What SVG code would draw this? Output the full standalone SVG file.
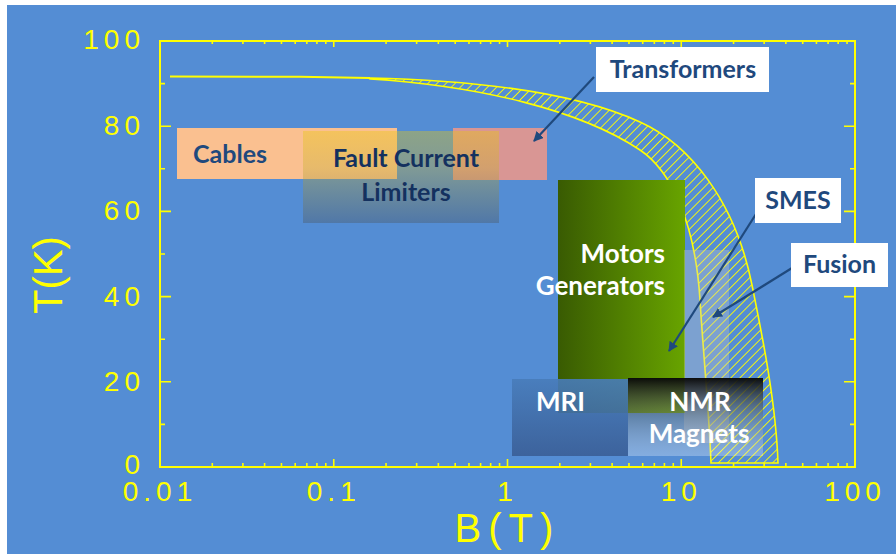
<svg xmlns="http://www.w3.org/2000/svg" width="896" height="554" viewBox="0 0 896 554">
  <defs>
    <style>
      .ax{fill:none;stroke:#FFFF00;stroke-width:2}
      .tk{fill:none;stroke:#FFFF00;stroke-width:1.6}
      .num{font-family:'Liberation Sans',Arial,sans-serif;font-size:28px;fill:#FFFF00;letter-spacing:5px}
      .title{font-family:'Liberation Sans',Arial,sans-serif;font-size:40px;fill:#FFFF00}
      .lbl{font-family:Lato,'Open Sans',sans-serif;font-weight:bold;font-size:25px}
      .dk{fill:#1F497D}
      .nv{fill:#14315F}
      .wt{fill:#FFFFFF}
      .tag{fill:#FFFFFF}
      .arr{stroke:#1F497D;stroke-width:2.2;fill:none;marker-end:url(#ah)}
    </style>
    <marker id="ah" viewBox="0 0 10 10" refX="9" refY="5" markerWidth="4.5" markerHeight="4.5" orient="auto" markerUnits="strokeWidth">
      <path d="M0,0 L10,5 L0,10 z" fill="#1F497D"/>
    </marker>
    <pattern id="hatch" width="6.4" height="6.4" patternUnits="userSpaceOnUse" patternTransform="rotate(45)">
      <line x1="3.2" y1="0" x2="3.2" y2="6.4" stroke="#FFFF00" stroke-width="0.9"/>
    </pattern>
    <linearGradient id="gFCL" x1="0" y1="0" x2="0" y2="1">
      <stop offset="0" stop-color="#EAC80A" stop-opacity="0.38"/>
      <stop offset="0.4" stop-color="#C8B030" stop-opacity="0.38"/>
      <stop offset="1" stop-color="#4A5560" stop-opacity="0.38"/>
    </linearGradient>
    <linearGradient id="gMG" x1="0" y1="0" x2="1" y2="0">
      <stop offset="0" stop-color="#395B02"/>
      <stop offset="1" stop-color="#68A400"/>
    </linearGradient>
    <linearGradient id="gMRI" x1="0" y1="0" x2="0" y2="1">
      <stop offset="0" stop-color="#487CBA" stop-opacity="0.9"/>
      <stop offset="1" stop-color="#3A5E96" stop-opacity="0.9"/>
    </linearGradient>
    <linearGradient id="gNMR" x1="0" y1="0" x2="0" y2="1">
      <stop offset="0" stop-color="#080808" stop-opacity="0.97"/>
      <stop offset="0.5" stop-color="#707878" stop-opacity="0.45"/>
      <stop offset="1" stop-color="#FFFFFF" stop-opacity="0.28"/>
    </linearGradient>
  </defs>

  <!-- page -->
  <rect x="0" y="0" width="896" height="554" fill="#FFFFFF"/>
  <rect x="7" y="5" width="889" height="549" fill="#548DD4"/>

  <!-- axes -->
  <g id="axes">
    <rect class="ax" x="160" y="41" width="695" height="426"/>
    <!-- B ticks, top and bottom (log decades 0.01 .. 100) -->
    <path class="tk" d="M333.75,41v6M507.5,41v6M681.25,41v6
      M212.3,41v3M242.9,41v3M264.6,41v3M281.45,41v3M295.2,41v3M306.84,41v3M316.91,41v3M325.8,41v3
      M386.05,41v3M416.65,41v3M438.36,41v3M455.2,41v3M468.95,41v3M480.59,41v3M490.66,41v3M499.55,41v3
      M559.8,41v3M590.4,41v3M612.11,41v3M628.95,41v3M642.7,41v3M654.34,41v3M664.41,41v3M673.3,41v3
      M733.55,41v3M764.15,41v3M785.86,41v3M802.7,41v3M816.45,41v3M828.09,41v3M838.16,41v3M847.05,41v3"/>
    <path class="tk" d="M333.75,467v-8M507.5,467v-8M681.25,467v-8
      M212.3,467v-4M242.9,467v-4M264.6,467v-4M281.45,467v-4M295.2,467v-4M306.84,467v-4M316.91,467v-4M325.8,467v-4
      M386.05,467v-4M416.65,467v-4M438.36,467v-4M455.2,467v-4M468.95,467v-4M480.59,467v-4M490.66,467v-4M499.55,467v-4
      M559.8,467v-4M590.4,467v-4M612.11,467v-4M628.95,467v-4M642.7,467v-4M654.34,467v-4M664.41,467v-4M673.3,467v-4
      M733.55,467v-4M764.15,467v-4M785.86,467v-4M802.7,467v-4M816.45,467v-4M828.09,467v-4M838.16,467v-4M847.05,467v-4"/>
    <!-- T ticks, left and right (every 10 K) -->
    <path class="tk" d="M160,381.8h11M160,296.6h11M160,211.4h11M160,126.2h11
      M160,424.4h5M160,339.2h5M160,254h5M160,168.8h5M160,83.6h5
      M855,381.8h-11M855,296.6h-11M855,211.4h-11M855,126.2h-11
      M855,424.4h-5M855,339.2h-5M855,254h-5M855,168.8h-5M855,83.6h-5"/>
    <!-- tick labels -->
    <g class="num" text-anchor="end">
      <text x="145" y="49">100</text>
      <text x="145" y="135">80</text>
      <text x="145" y="220">60</text>
      <text x="145" y="306">40</text>
      <text x="145" y="391">20</text>
      <text x="145" y="474">0</text>
    </g>
    <g class="num" text-anchor="middle">
      <text x="160" y="501">0.01</text>
      <text x="333.75" y="501">0.1</text>
      <text x="507.5" y="501">1</text>
      <text x="681.25" y="501">10</text>
      <text x="855" y="501">100</text>
    </g>
    <text class="title" x="507.5" y="542" text-anchor="middle" letter-spacing="7">B(T)</text>
    <text class="title" transform="translate(62,275) rotate(-90)" text-anchor="middle">T(K)</text>
  </g>

  <!-- critical field band -->
  <g id="band">
    <path d="M170,76.5 L300,76.8 L370,78" fill="none" stroke="#FFFF00" stroke-width="2"/>
    <path d="M370,78 C460,80 570,90 640,122 C689,144 735,200 752,285 C760,325 776,400 778,463 L711,463 C709,410 703,350 700,300 C695,220 670,170 640,150 C580,110 480,86 370,79 Z"
          fill="url(#hatch)" stroke="#FFFF00" stroke-width="1.6"/>
  </g>

  <!-- application regions -->
  <g id="cables">
    <rect x="177" y="128" width="220" height="51" fill="#FAC090"/>
  </g>
  <g id="transformers-area">
    <rect x="453" y="128" width="94" height="52" fill="#D99694"/>
  </g>
  <g id="fcl">
    <rect x="303" y="131" width="196" height="92" fill="url(#gFCL)"/>
  </g>
  <g id="motors">
    <rect x="558" y="180" width="127" height="233" fill="url(#gMG)"/>
  </g>
  <g id="fusion-area">
    <rect x="684" y="250" width="45" height="193" fill="#C8C8C8" opacity="0.35"/>
  </g>
  <g id="mri">
    <rect x="512" y="379" width="116" height="77" fill="url(#gMRI)"/>
  </g>
  <g id="nmr">
    <rect x="628" y="378" width="135" height="78" fill="url(#gNMR)"/>
  </g>

  <!-- region texts -->
  <g id="region-labels" class="lbl">
    <text class="dk" x="193" y="163">Cables</text>
    <text class="nv" x="406" y="167" text-anchor="middle">Fault Current</text>
    <text class="nv" x="406" y="201" text-anchor="middle">Limiters</text>
    <text class="wt" x="665" y="263" text-anchor="end" font-size="26">Motors</text>
    <text class="wt" x="665" y="295" text-anchor="end" font-size="26">Generators</text>
    <text class="wt" x="536" y="411" font-size="26">MRI</text>
    <text class="wt" x="700" y="411" text-anchor="middle" font-size="26">NMR</text>
    <text class="wt" x="699" y="443" text-anchor="middle" font-size="26">Magnets</text>
  </g>

  <!-- callouts -->
  <g id="connectors">
    <line class="arr" x1="594" y1="77" x2="534" y2="141"/>
    <line class="arr" x1="756" y1="214" x2="669" y2="351"/>
    <line class="arr" x1="792" y1="268" x2="713" y2="317"/>
  </g>
  <g id="transformers" class="lbl">
    <rect class="tag" x="596" y="47" width="173" height="45"/>
    <text class="dk" x="683" y="78" text-anchor="middle">Transformers</text>
  </g>
  <g id="smes" class="lbl">
    <rect class="tag" x="755" y="178" width="86" height="45"/>
    <text class="dk" x="798" y="209" text-anchor="middle">SMES</text>
  </g>
  <g id="fusion" class="lbl">
    <rect class="tag" x="791" y="243" width="97" height="44"/>
    <text class="dk" x="839.5" y="273" text-anchor="middle">Fusion</text>
  </g>
</svg>
